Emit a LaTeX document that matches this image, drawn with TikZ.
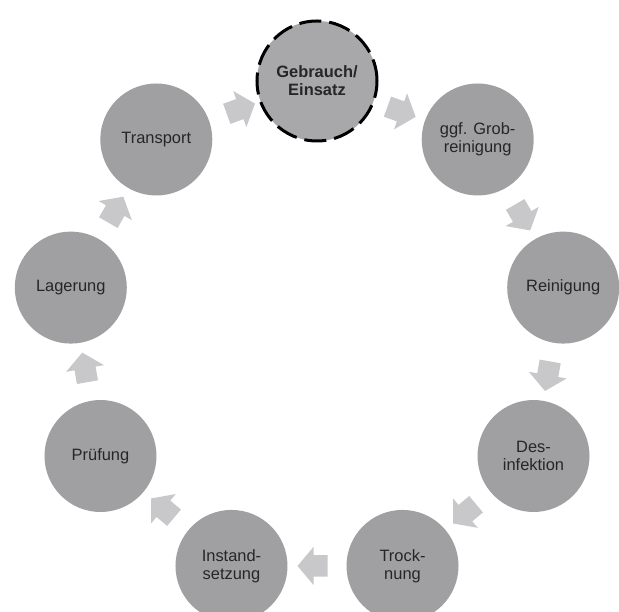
\documentclass[tikz,border=0pt]{standalone}
\usepackage{fontspec}
\setmainfont{Liberation Sans}
\usetikzlibrary{shapes.arrows,calc}
\definecolor{kreisgrau}{RGB}{160,160,162}
\definecolor{startgrau}{RGB}{168,168,170}
\definecolor{pfeilgrau}{RGB}{200,200,202}
\definecolor{textgrau}{RGB}{38,38,38}

\begin{document}
\begin{tikzpicture}[x=1bp,y=1bp,
  schritt/.style={circle,fill=kreisgrau,minimum size=112bp,inner sep=0pt,align=center,text=textgrau,font=\fontsize{16.5}{18}\selectfont},
  start/.style={schritt,fill=startgrau,draw=black,line width=3bp,dash pattern=on 22bp off 8bp,minimum size=120bp,font=\fontsize{16.5}{18}\selectfont\bfseries},
  pfeil/.style={single arrow,fill=pfeilgrau,minimum height=30bp,inner xsep=0pt,inner ysep=10.5bp,single arrow head extend=8.5bp,single arrow tip angle=100}]
\useasboundingbox (-317,-281) rectangle (302,331);
% Kreislauf, Radius 250, im Uhrzeigersinn
\node[start]   (gebrauch)  at (90:250)   {Gebrauch/\\Einsatz};
\node[schritt] (grob)      at (50:250)   {ggf. Grob-\\reinigung};
\node[schritt] (reinigung) at (10:250)   {Reinigung};
\node[schritt] (desinf)    at (-30:250)  {Des-\\infektion};
\node[schritt] (trocknung) at (-70:250)  {Trock-\\nung};
\node[schritt] (instand)   at (-110:250) {Instand-\\setzung};
\node[schritt] (pruefung)  at (-150:250) {Prüfung};
\node[schritt] (lagerung)  at (170:250)  {Lagerung};
\node[schritt] (transport) at (130:250)  {Transport};
% Blockpfeile zwischen den Schritten
\foreach \a/\b/\w in {gebrauch/grob/-20, grob/reinigung/-60, reinigung/desinf/-100, desinf/trocknung/-140, trocknung/instand/180, instand/pruefung/140, pruefung/lagerung/100, lagerung/transport/60, transport/gebrauch/20}
  \node[pfeil,rotate=\w] (p-\a) at ($(\a)!0.5!(\b)$) {};
\end{tikzpicture}
\end{document}
